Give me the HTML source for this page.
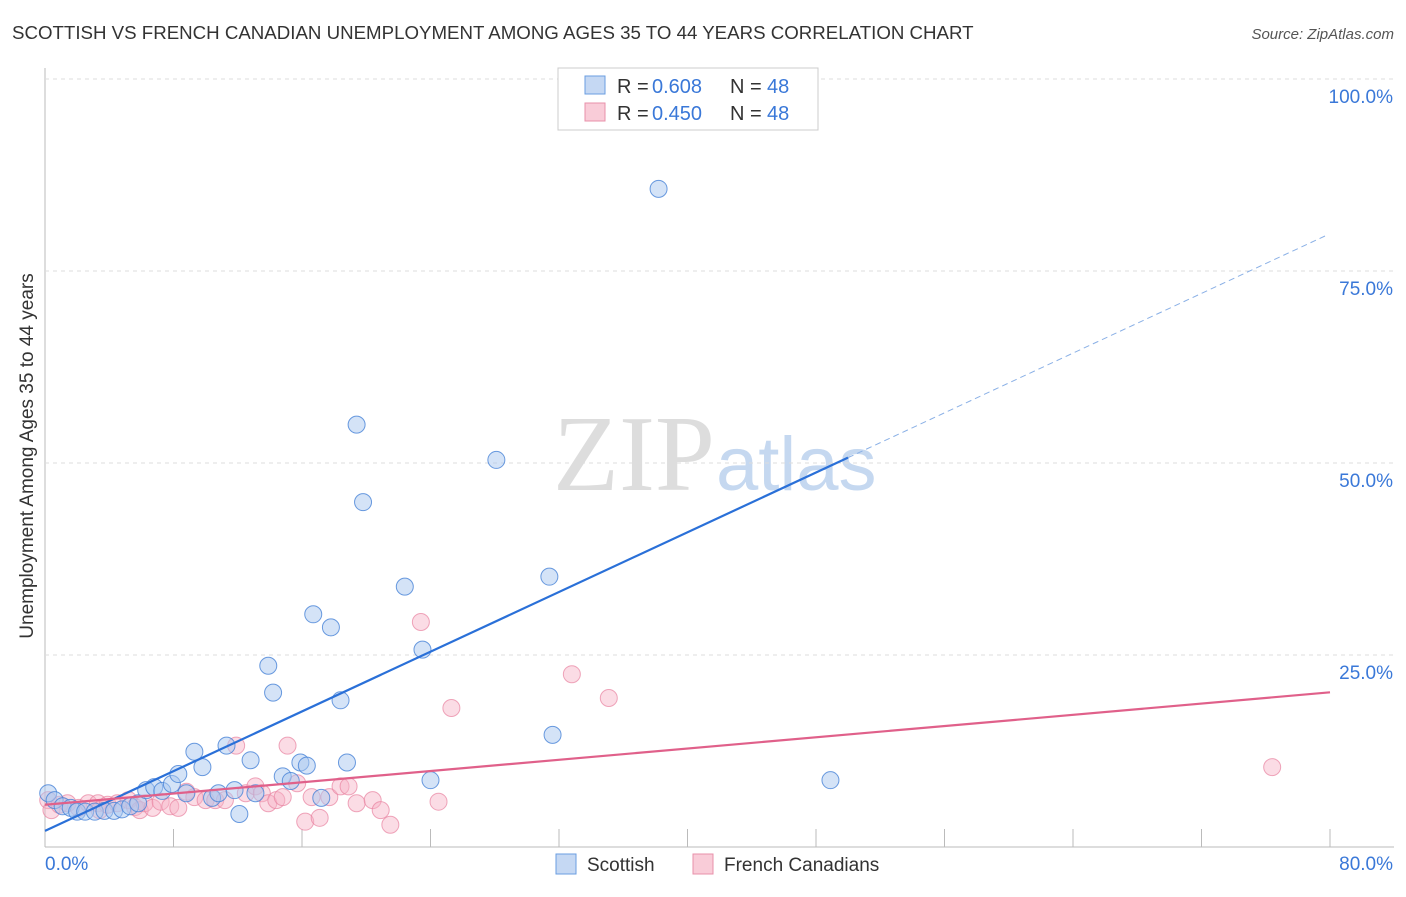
<!DOCTYPE html>
<html><head><meta charset="utf-8"><style>
body{margin:0;background:#fff;font-family:"Liberation Sans",sans-serif;}
#c{position:absolute;left:0;top:0;width:1406px;height:892px;}
</style></head><body>
<div id="c">
<svg id="s" width="1406" height="892" xmlns="http://www.w3.org/2000/svg">
<text x="12" y="39" font-size="18.7" fill="#333">SCOTTISH VS FRENCH CANADIAN UNEMPLOYMENT AMONG AGES 35 TO 44 YEARS CORRELATION CHART</text>
<text x="1394" y="39" font-size="15" fill="#555" text-anchor="end" font-style="italic">Source: ZipAtlas.com</text>
<text x="33" y="456" font-size="19" fill="#333" text-anchor="middle" transform="rotate(-90 33 456)">Unemployment Among Ages 35 to 44 years</text>
<text x="553" y="490" font-size="108" fill="#ddd" font-family="Liberation Serif,serif">ZIP</text>
<text x="716" y="490" font-size="76" fill="#c5d8f0">atlas</text>
<g id="grid"></g><g id="marks"></g>
<g>
<rect x="558" y="68" width="260" height="62" fill="#fff" stroke="#ccc"/>
<rect x="585" y="76" width="20" height="18" fill="#c5d8f3" stroke="#6a9ee0"/>
<text x="617" y="93" font-size="20" fill="#333">R = </text><text x="652" y="93" font-size="20" fill="#3a78d8">0.608</text>
<text x="730" y="93" font-size="20" fill="#333">N = </text><text x="767" y="93" font-size="20" fill="#3a78d8">48</text>
<rect x="585" y="103" width="20" height="18" fill="#f9ccd8" stroke="#e890aa"/>
<text x="617" y="120" font-size="20" fill="#333">R = </text><text x="652" y="120" font-size="20" fill="#3a78d8">0.450</text>
<text x="730" y="120" font-size="20" fill="#333">N = </text><text x="767" y="120" font-size="20" fill="#3a78d8">48</text>
</g>
<g>
<rect x="556" y="854" width="20" height="20" fill="#c5d8f3" stroke="#6a9ee0"/>
<text x="587" y="871" font-size="19" fill="#333">Scottish</text>
<rect x="693" y="854" width="20" height="20" fill="#f9ccd8" stroke="#e890aa"/>
<text x="724" y="871" font-size="19" fill="#333">French Canadians</text>
</g>
</svg></div>
<script>
const xTicks=[0,8,16,24,32,40,48,56,64,72,80];
const yTicks=[25,50,75,100];
const yTickLabels=["25.0%","50.0%","75.0%","100.0%"];
const scottishX=[0.2,0.6,1.1,1.6,2.0,2.5,3.1,3.7,4.3,4.8,5.3,5.8,6.3,6.8,7.3,7.9,8.3,8.8,9.3,9.8,10.4,10.8,11.3,11.8,12.1,12.8,13.1,13.9,14.2,14.8,15.3,15.9,16.3,16.7,17.2,17.8,18.4,18.8,19.4,19.8,22.4,23.5,24.0,28.1,31.4,31.6,38.2,48.9];
const scottishY=[7.0,6.1,5.3,5.1,4.6,4.6,4.6,4.7,4.7,4.9,5.3,5.7,7.4,7.8,7.3,8.2,9.5,7.0,12.4,10.4,6.4,7.0,13.2,7.4,4.3,11.3,7.0,23.6,20.1,9.2,8.6,11.0,10.6,30.3,6.4,28.6,19.1,11.0,55.0,44.9,33.9,25.7,8.7,50.4,35.2,14.6,85.7,8.7];
const frenchX=[0.2,0.4,0.9,1.4,2.1,2.7,3.3,3.4,3.9,4.5,5.2,5.6,5.9,6.2,6.7,7.2,7.8,8.3,8.8,9.3,10.0,10.6,11.2,11.9,12.5,13.1,13.5,13.9,14.4,14.8,15.1,15.7,16.2,16.6,17.1,17.7,18.4,18.9,19.4,20.4,20.9,21.5,23.4,24.5,25.3,32.8,35.1,76.4];
const frenchY=[6.1,4.8,5.5,5.7,5.1,5.7,5.7,4.8,5.5,5.7,6.1,5.2,4.8,5.7,5.1,5.9,5.3,5.1,7.2,6.5,6.1,6.1,6.1,13.2,7.0,7.9,7.0,5.7,6.1,6.5,13.2,8.3,3.3,6.5,3.8,6.5,7.9,7.9,5.7,6.1,4.8,2.9,29.3,5.9,18.1,22.5,19.4,10.4];
const trendB=[2.1,0.972], trendP=[5.5,0.183];
const X=v=>45+v/80*1285, Y=v=>847-v/100*768;
const NS="http://www.w3.org/2000/svg";
function mk(t,a,p){const e=document.createElementNS(NS,t);for(const k in a)e.setAttribute(k,a[k]);p.appendChild(e);return e;}
const g=document.getElementById('grid'),m=document.getElementById('marks');
mk('line',{x1:45,y1:68,x2:45,y2:847,stroke:'#bbb'},g);
mk('line',{x1:45,y1:847,x2:1394,y2:847,stroke:'#bbb'},g);
yTicks.forEach((v,i)=>{
 const l=mk('line',{x1:45,y1:Y(v),x2:1394,y2:Y(v),stroke:'#ddd','stroke-dasharray':'4,4'},g);
 
 
 const t=mk('text',{x:1393,y:Y(v)+24,'font-size':19,fill:'#3a78d8','text-anchor':'end'},g);t.textContent=yTickLabels[i];
 
 
});
xTicks.slice(1).forEach(v=>{mk('line',{x1:X(v),y1:829,x2:X(v),y2:847,stroke:'#bbb'},g);});
let t0=mk('text',{x:45,y:870,'font-size':19,fill:'#3a78d8'},g);t0.textContent='0.0%';


let t1=mk('text',{x:1393,y:870,'font-size':19,fill:'#3a78d8','text-anchor':'end'},g);t1.textContent='80.0%';


frenchX.forEach((x,i)=>{const c=mk('circle',{cx:X(x),cy:Y(frenchY[i]),r:8.5,fill:'rgba(246,178,198,0.45)',stroke:'rgba(232,130,160,0.7)'},m);
 
 });
scottishX.forEach((x,i)=>{const c=mk('circle',{cx:X(x),cy:Y(scottishY[i]),r:8.5,fill:'rgba(170,200,240,0.5)',stroke:'rgba(70,130,215,0.8)'},m);
 
 });
const xs=(848-45)/1285*80;
let lb=mk('line',{x1:X(0),y1:Y(trendB[0]),x2:X(xs),y2:Y(trendB[0]+trendB[1]*xs),stroke:'#2a70d8','stroke-width':2.2},m);


let ld=mk('line',{x1:X(xs),y1:Y(trendB[0]+trendB[1]*xs),x2:X(79.7),y2:Y(trendB[0]+trendB[1]*79.7),stroke:'#8ab0e6','stroke-width':1,'stroke-dasharray':'6,4'},m);


let lp=mk('line',{x1:X(0),y1:Y(trendP[0]),x2:X(80),y2:Y(trendP[0]+trendP[1]*80),stroke:'#e0608a','stroke-width':2.2},m);


</script></body></html>
